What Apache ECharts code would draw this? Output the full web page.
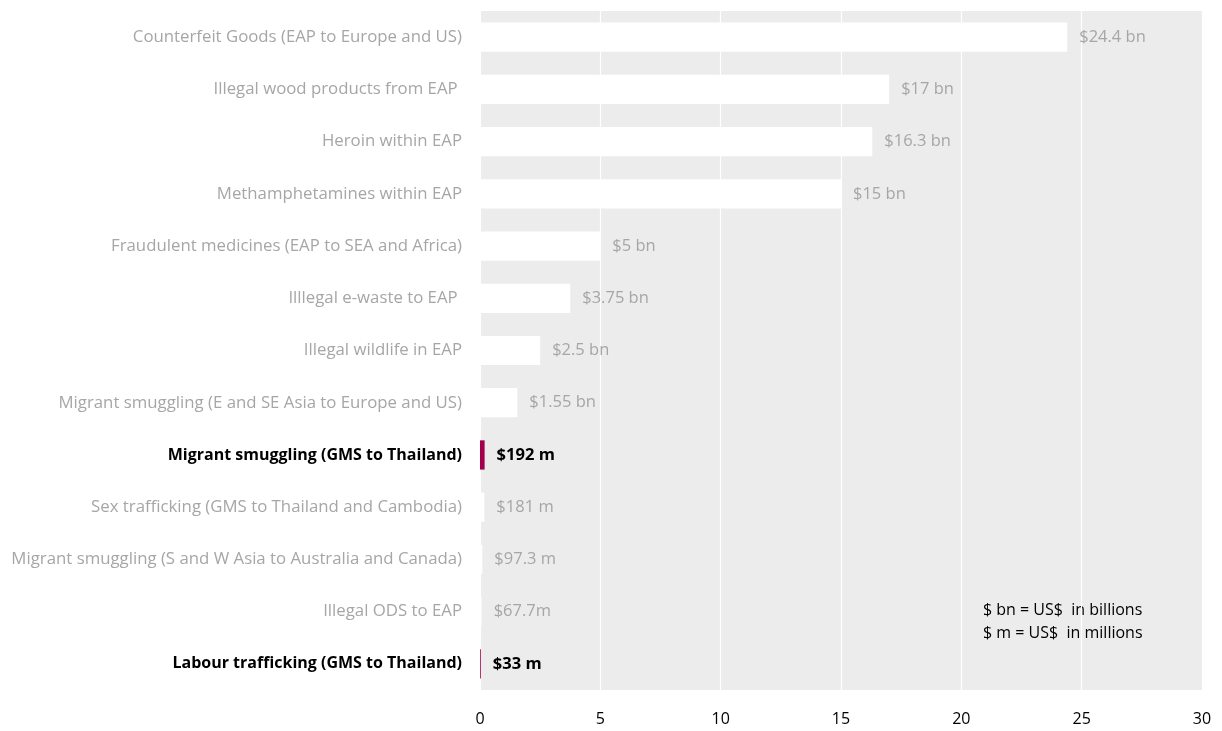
<!DOCTYPE html>
<html>
<head>
<meta charset="utf-8">
<script src="https://cdn.jsdelivr.net/npm/echarts@6/dist/echarts.min.js"></script>
<style>html,body{margin:0;padding:0;background:#fff;}#c{width:1222px;height:731px;}</style>
</head>
<body>
<div id="c"></div>
<script>
const categories = [
  "Counterfeit Goods (EAP to Europe and US)",
  "Illegal wood products from EAP ",
  "Heroin within EAP",
  "Methamphetamines within EAP",
  "Fraudulent medicines (EAP to SEA and Africa)",
  "Illlegal e-waste to EAP ",
  "Illegal wildlife in EAP",
  "Migrant smuggling (E and SE Asia to Europe and US)",
  "Migrant smuggling (GMS to Thailand)",
  "Sex trafficking (GMS to Thailand and Cambodia)",
  "Migrant smuggling (S and W Asia to Australia and Canada)",
  "Illegal ODS to EAP",
  "Labour trafficking (GMS to Thailand)"
];
const values = [24.4, 17, 16.3, 15, 5, 3.75, 2.5, 1.55, 0.192, 0.181, 0.0973, 0.0677, 0.033];
const valueLabels = ["$24.4 bn", "$17 bn", "$16.3 bn", "$15 bn", "$5 bn", "$3.75 bn", "$2.5 bn", "$1.55 bn", "$192 m", "$181 m", "$97.3 m", "$67.7m", "$33 m"];
const highlighted = [false, false, false, false, false, false, false, false, true, false, false, false, true];
const xTicks = [0, 5, 10, 15, 20, 25, 30];
const noteLines = ["$ bn = US$  in billions", "$ m = US$  in millions"];

const FONT = "'Open Sans', 'Noto Sans', sans-serif";
const chart = echarts.init(document.getElementById('c'));

const data = values.map((v, i) => ({
  value: v,
  itemStyle: { color: highlighted[i] ? '#a3004b' : '#ffffff' },
  label: {
    color: highlighted[i] ? '#000000' : '#a6a6a6',
    fontWeight: highlighted[i] ? 'bold' : 'normal'
  }
}));

chart.setOption({
  animation: false,
  grid: { left: 480, right: 20, top: 11, bottom: 41, show: true, backgroundColor: '#ececec', borderWidth: 0 },
  xAxis: {
    type: 'value', min: xTicks[0], max: xTicks[xTicks.length - 1], interval: 5,
    axisLine: { show: false }, axisTick: { show: false },
    splitLine: { show: true, lineStyle: { color: '#ffffff', width: 1.2 } },
    axisLabel: { color: '#000', fontSize: 16, fontFamily: FONT, margin: 21 }
  },
  yAxis: {
    type: 'category', data: categories, inverse: true,
    axisLine: { show: false }, axisTick: { show: false },
    axisLabel: {
      fontSize: 16.8, fontFamily: FONT, margin: 18,
      formatter: (v) => {
        const i = categories.indexOf(v);
        return highlighted[i] ? '{b|' + v + '}' : '{n|' + v + '}';
      },
      rich: {
        n: { color: '#a6a6a6', fontSize: 16.8, fontFamily: FONT },
        b: { color: '#000', fontSize: 16, fontWeight: 'bold', fontFamily: FONT }
      }
    }
  },
  series: [{
    type: 'bar', data: data, barCategoryGap: '44%',
    label: {
      show: true, position: 'right', distance: 12, fontSize: 16.5, fontFamily: FONT,
      formatter: (p) => valueLabels[p.dataIndex]
    }
  }],
  graphic: noteLines.map((t, i) => ({
    type: 'text', left: 983, top: 602 + i * 23,
    style: { text: t, fill: '#000', fontSize: 16, fontFamily: FONT }
  }))
});
</script>
</body>
</html>
